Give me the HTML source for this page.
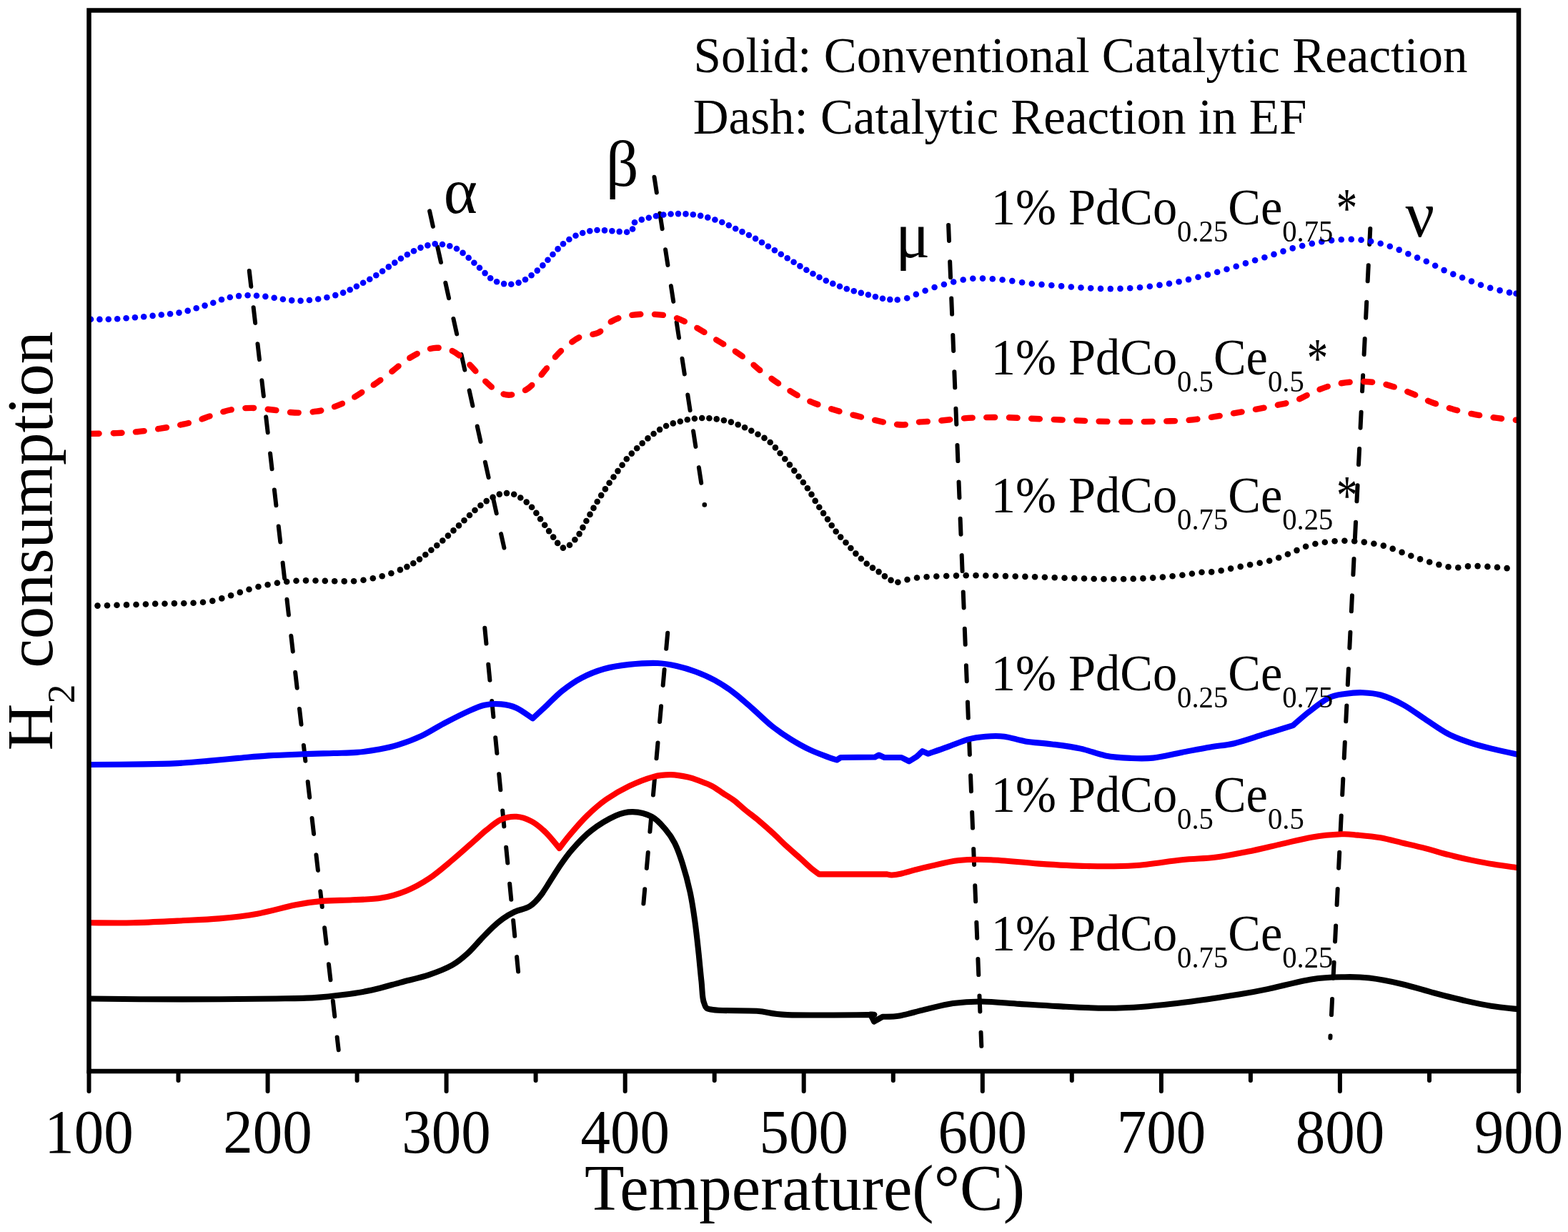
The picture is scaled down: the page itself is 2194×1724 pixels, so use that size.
<!DOCTYPE html>
<html><head><meta charset="utf-8"><title>H2-TPR</title>
<style>
html,body{margin:0;padding:0;background:#fff;}
svg{display:block;}
text{font-family:"Liberation Serif","Times New Roman",serif;fill:#000;}
</style></head><body>
<svg width="2194" height="1724" viewBox="0 0 2194 1724">
<rect x="0" y="0" width="2194" height="1724" fill="#fff"/>
<line x1="348.8" y1="379.1" x2="473.7" y2="1469.2" stroke="#000" stroke-width="6" stroke-linecap="round" stroke-dasharray="22 29.4"/>
<line x1="601.1" y1="295.4" x2="705.4" y2="766.6" stroke="#000" stroke-width="6" stroke-linecap="round" stroke-dasharray="22 29.4"/>
<line x1="678.3" y1="878.7" x2="725.1" y2="1359.5" stroke="#000" stroke-width="6" stroke-linecap="round" stroke-dasharray="22 29.4"/>
<line x1="915.5" y1="247.7" x2="985.5" y2="703.8" stroke="#000" stroke-width="6" stroke-linecap="round" stroke-dasharray="22 29.4"/>
<line x1="934.2" y1="885.8" x2="900.4" y2="1264.5" stroke="#000" stroke-width="6" stroke-linecap="round" stroke-dasharray="22 29.4"/>
<line x1="1327.1" y1="314.9" x2="1373.3" y2="1463.8" stroke="#000" stroke-width="6" stroke-linecap="round" stroke-dasharray="22 29.4"/>
<line x1="1917.3" y1="320.0" x2="1861.4" y2="1452.4" stroke="#000" stroke-width="6" stroke-linecap="round" stroke-dasharray="22 29.4"/>
<circle cx="985.8" cy="706.4" r="3.3" fill="#000"/>
<g fill="#0000ff"><circle cx="127.0" cy="446.8" r="4.30"/><circle cx="139.4" cy="446.9" r="4.30"/><circle cx="151.8" cy="446.8" r="4.30"/><circle cx="164.2" cy="446.2" r="4.30"/><circle cx="176.6" cy="445.3" r="4.30"/><circle cx="188.9" cy="444.3" r="4.30"/><circle cx="201.2" cy="443.2" r="4.30"/><circle cx="213.6" cy="441.9" r="4.30"/><circle cx="225.8" cy="440.5" r="4.30"/><circle cx="238.1" cy="439.2" r="4.30"/><circle cx="250.5" cy="437.6" r="4.30"/><circle cx="262.7" cy="434.9" r="4.30"/><circle cx="274.7" cy="431.2" r="4.30"/><circle cx="286.6" cy="427.6" r="4.30"/><circle cx="298.3" cy="423.8" r="4.30"/><circle cx="310.0" cy="419.3" r="4.30"/><circle cx="321.8" cy="416.0" r="4.30"/><circle cx="334.1" cy="414.1" r="4.30"/><circle cx="346.6" cy="413.3" r="4.30"/><circle cx="359.0" cy="413.8" r="4.30"/><circle cx="371.4" cy="414.9" r="4.30"/><circle cx="383.7" cy="416.8" r="4.30"/><circle cx="395.9" cy="418.7" r="4.30"/><circle cx="408.2" cy="420.4" r="4.30"/><circle cx="420.6" cy="420.9" r="4.30"/><circle cx="432.9" cy="420.0" r="4.30"/><circle cx="445.2" cy="418.5" r="4.30"/><circle cx="457.4" cy="416.2" r="4.30"/><circle cx="469.3" cy="413.1" r="4.30"/><circle cx="480.1" cy="409.6" r="4.30"/><circle cx="489.7" cy="405.5" r="4.30"/><circle cx="498.9" cy="400.8" r="4.30"/><circle cx="508.1" cy="395.7" r="4.30"/><circle cx="517.3" cy="390.7" r="4.30"/><circle cx="526.3" cy="385.3" r="4.30"/><circle cx="535.1" cy="379.5" r="4.30"/><circle cx="543.8" cy="373.4" r="4.30"/><circle cx="552.3" cy="367.6" r="4.30"/><circle cx="560.9" cy="361.8" r="4.30"/><circle cx="569.9" cy="356.3" r="4.30"/><circle cx="579.0" cy="351.3" r="4.30"/><circle cx="588.5" cy="346.6" r="4.30"/><circle cx="598.4" cy="343.4" r="4.30"/><circle cx="608.7" cy="341.3" r="4.30"/><circle cx="619.0" cy="342.0" r="4.30"/><circle cx="629.3" cy="344.3" r="4.30"/><circle cx="639.0" cy="348.0" r="4.30"/><circle cx="647.6" cy="353.9" r="4.30"/><circle cx="655.7" cy="360.7" r="4.30"/><circle cx="663.4" cy="367.7" r="4.30"/><circle cx="671.0" cy="374.8" r="4.30"/><circle cx="678.6" cy="382.1" r="4.30"/><circle cx="686.2" cy="389.2" r="4.30"/><circle cx="695.1" cy="394.2" r="4.30"/><circle cx="705.1" cy="397.1" r="4.30"/><circle cx="715.3" cy="397.7" r="4.30"/><circle cx="725.6" cy="395.6" r="4.30"/><circle cx="735.0" cy="391.2" r="4.30"/><circle cx="743.6" cy="385.2" r="4.30"/><circle cx="751.8" cy="378.6" r="4.30"/><circle cx="759.4" cy="371.4" r="4.30"/><circle cx="766.5" cy="363.8" r="4.30"/><circle cx="773.5" cy="356.0" r="4.30"/><circle cx="780.6" cy="348.4" r="4.30"/><circle cx="788.0" cy="341.2" r="4.30"/><circle cx="796.4" cy="335.0" r="4.30"/><circle cx="805.5" cy="329.8" r="4.30"/><circle cx="815.2" cy="326.0" r="4.30"/><circle cx="825.3" cy="323.3" r="4.30"/><circle cx="835.5" cy="322.0" r="4.30"/><circle cx="846.0" cy="322.4" r="4.30"/><circle cx="856.4" cy="323.3" r="4.30"/><circle cx="866.7" cy="324.1" r="4.30"/><circle cx="877.1" cy="324.8" r="4.30"/><circle cx="885.1" cy="320.5" r="4.30"/><circle cx="888.0" cy="311.3" r="4.30"/><circle cx="897.8" cy="307.4" r="4.30"/><circle cx="907.8" cy="304.7" r="4.30"/><circle cx="918.0" cy="302.3" r="4.30"/><circle cx="928.3" cy="300.5" r="4.30"/><circle cx="938.6" cy="299.5" r="4.30"/><circle cx="949.0" cy="299.1" r="4.30"/><circle cx="959.5" cy="299.4" r="4.30"/><circle cx="969.8" cy="300.2" r="4.30"/><circle cx="980.2" cy="301.9" r="4.30"/><circle cx="990.3" cy="304.4" r="4.30"/><circle cx="1000.4" cy="307.5" r="4.30"/><circle cx="1010.3" cy="311.0" r="4.30"/><circle cx="1019.8" cy="315.2" r="4.30"/><circle cx="1029.2" cy="320.0" r="4.30"/><circle cx="1038.5" cy="324.4" r="4.30"/><circle cx="1047.9" cy="329.0" r="4.30"/><circle cx="1057.1" cy="333.9" r="4.30"/><circle cx="1066.0" cy="339.2" r="4.30"/><circle cx="1074.9" cy="344.8" r="4.30"/><circle cx="1083.9" cy="350.3" r="4.30"/><circle cx="1092.8" cy="355.8" r="4.30"/><circle cx="1101.7" cy="361.3" r="4.30"/><circle cx="1110.6" cy="366.8" r="4.30"/><circle cx="1119.4" cy="372.4" r="4.30"/><circle cx="1128.4" cy="377.7" r="4.30"/><circle cx="1137.5" cy="383.0" r="4.30"/><circle cx="1146.5" cy="388.0" r="4.30"/><circle cx="1155.8" cy="392.7" r="4.30"/><circle cx="1165.3" cy="396.9" r="4.30"/><circle cx="1175.0" cy="400.7" r="4.30"/><circle cx="1184.8" cy="404.3" r="4.30"/><circle cx="1194.8" cy="407.3" r="4.30"/><circle cx="1204.8" cy="409.9" r="4.30"/><circle cx="1214.9" cy="412.5" r="4.30"/><circle cx="1224.9" cy="415.3" r="4.30"/><circle cx="1235.0" cy="417.8" r="4.30"/><circle cx="1245.3" cy="419.1" r="4.30"/><circle cx="1255.7" cy="419.5" r="4.30"/><circle cx="1269.2" cy="417.2" r="4.30"/><circle cx="1281.8" cy="411.9" r="4.30"/><circle cx="1294.6" cy="406.7" r="4.30"/><circle cx="1307.6" cy="402.0" r="4.30"/><circle cx="1320.9" cy="398.0" r="4.30"/><circle cx="1334.2" cy="394.5" r="4.30"/><circle cx="1347.7" cy="391.5" r="4.30"/><circle cx="1361.3" cy="389.7" r="4.30"/><circle cx="1375.0" cy="389.6" r="4.30"/><circle cx="1388.8" cy="390.3" r="4.30"/><circle cx="1402.6" cy="391.5" r="4.30"/><circle cx="1416.3" cy="393.1" r="4.30"/><circle cx="1430.1" cy="395.2" r="4.30"/><circle cx="1443.8" cy="397.0" r="4.30"/><circle cx="1457.5" cy="398.1" r="4.30"/><circle cx="1471.3" cy="399.2" r="4.30"/><circle cx="1485.1" cy="400.4" r="4.30"/><circle cx="1498.8" cy="401.5" r="4.30"/><circle cx="1512.5" cy="402.5" r="4.30"/><circle cx="1526.2" cy="403.3" r="4.30"/><circle cx="1540.0" cy="403.9" r="4.30"/><circle cx="1553.8" cy="404.1" r="4.30"/><circle cx="1567.5" cy="403.9" r="4.30"/><circle cx="1581.2" cy="403.3" r="4.30"/><circle cx="1595.0" cy="402.2" r="4.30"/><circle cx="1608.8" cy="400.7" r="4.30"/><circle cx="1622.5" cy="398.9" r="4.30"/><circle cx="1636.0" cy="396.9" r="4.30"/><circle cx="1649.6" cy="394.2" r="4.30"/><circle cx="1663.0" cy="391.1" r="4.30"/><circle cx="1676.5" cy="387.8" r="4.30"/><circle cx="1689.9" cy="384.4" r="4.30"/><circle cx="1703.2" cy="380.7" r="4.30"/><circle cx="1716.5" cy="376.8" r="4.30"/><circle cx="1729.7" cy="372.7" r="4.30"/><circle cx="1742.9" cy="368.4" r="4.30"/><circle cx="1756.1" cy="364.3" r="4.30"/><circle cx="1769.4" cy="360.2" r="4.30"/><circle cx="1782.5" cy="355.9" r="4.30"/><circle cx="1795.5" cy="351.6" r="4.30"/><circle cx="1808.7" cy="347.4" r="4.30"/><circle cx="1822.2" cy="344.0" r="4.30"/><circle cx="1835.8" cy="340.9" r="4.30"/><circle cx="1849.3" cy="338.3" r="4.30"/><circle cx="1863.1" cy="336.4" r="4.30"/><circle cx="1876.8" cy="335.2" r="4.30"/><circle cx="1890.8" cy="334.9" r="4.30"/><circle cx="1904.6" cy="335.8" r="4.30"/><circle cx="1918.2" cy="337.7" r="4.30"/><circle cx="1931.7" cy="340.7" r="4.30"/><circle cx="1944.8" cy="344.7" r="4.30"/><circle cx="1957.7" cy="349.6" r="4.30"/><circle cx="1970.4" cy="355.2" r="4.30"/><circle cx="1983.1" cy="360.6" r="4.30"/><circle cx="1995.8" cy="365.8" r="4.30"/><circle cx="2008.2" cy="371.8" r="4.30"/><circle cx="2020.6" cy="378.1" r="4.30"/><circle cx="2033.3" cy="383.6" r="4.30"/><circle cx="2046.1" cy="388.5" r="4.30"/><circle cx="2059.0" cy="393.6" r="4.30"/><circle cx="2072.0" cy="398.7" r="4.30"/><circle cx="2085.2" cy="402.9" r="4.30"/><circle cx="2098.6" cy="406.4" r="4.30"/><circle cx="2112.0" cy="409.4" r="4.30"/><circle cx="2121.5" cy="410.8" r="4.30"/></g>
<path d="M127.0,606.9 C132.9,606.8 151.9,606.5 162.7,606.1 C173.5,605.7 182.2,605.2 192.0,604.2 C201.8,603.2 212.1,601.7 221.4,600.2 C230.8,598.7 239.4,597.2 248.1,595.4 C256.8,593.6 265.4,591.8 273.4,589.5 C281.4,587.2 287.9,584.2 296.1,581.5 C304.3,578.8 313.5,575.3 322.8,573.5 C332.1,571.7 342.3,570.9 352.1,570.9 C361.9,570.9 371.5,572.4 381.5,573.5 C391.5,574.6 402.0,577.1 412.2,577.5 C422.4,577.9 433.7,577.0 442.8,575.7 C451.9,574.4 459.3,572.1 466.9,569.5 C474.5,566.9 481.1,564.0 488.2,560.2 C495.3,556.4 502.8,551.1 509.5,546.9 C516.2,542.7 521.5,539.6 528.2,534.9 C534.9,530.2 542.9,523.9 549.6,518.8 C556.3,513.7 561.5,508.6 568.2,504.2 C574.9,499.8 582.5,495.1 589.6,492.2 C596.7,489.3 603.8,487.0 610.9,486.8 C618.0,486.6 625.2,487.5 632.3,490.8 C639.4,494.1 646.5,500.4 653.6,506.8 C660.7,513.2 668.4,523.0 675.0,529.5 C681.6,536.0 687.1,541.6 693.3,545.5 C699.5,549.4 704.9,552.7 712.0,552.7 C719.1,552.7 729.3,549.1 736.0,545.5 C742.7,541.9 747.1,535.9 752.0,530.8 C756.9,525.7 760.9,520.3 765.4,514.8 C769.9,509.2 773.8,502.8 778.7,497.5 C783.6,492.2 788.9,487.2 794.7,482.8 C800.5,478.4 806.3,473.7 813.4,470.8 C820.5,467.9 830.3,469.1 837.4,465.5 C844.5,461.9 849.0,453.5 856.1,449.5 C863.2,445.5 871.2,443.1 880.1,441.5 C889.0,439.9 899.7,439.4 909.5,439.6 C919.3,439.8 929.9,440.7 938.8,442.8 C947.7,444.9 955.2,448.6 962.8,452.1 C970.4,455.7 977.1,459.9 984.2,464.1 C991.3,468.3 998.6,473.3 1005.5,477.5 C1012.4,481.7 1018.4,484.8 1025.5,489.5 C1032.6,494.2 1041.8,500.6 1048.2,505.5 C1054.7,510.4 1058.4,514.3 1064.2,518.8 C1070.0,523.2 1077.1,528.2 1082.9,532.2 C1088.7,536.2 1092.9,539.0 1098.9,542.8 C1104.9,546.6 1111.8,551.2 1118.9,554.9 C1126.0,558.6 1133.8,562.0 1141.6,565.0 C1149.4,568.0 1157.6,570.5 1165.6,573.0 C1173.6,575.5 1181.6,577.6 1189.6,579.7 C1197.6,581.8 1205.6,583.6 1213.6,585.5 C1221.6,587.4 1230.7,589.5 1237.6,590.9 C1244.5,592.3 1250.2,593.4 1255.0,594.0 C1259.8,594.6 1262.1,594.8 1266.7,594.3 C1271.3,593.8 1275.2,591.8 1282.7,590.9 C1290.2,590.0 1301.3,589.9 1312.0,589.0 C1322.7,588.1 1336.0,586.3 1346.7,585.5 C1357.4,584.7 1365.9,584.4 1376.1,584.2 C1386.3,584.0 1397.9,584.0 1408.1,584.2 C1418.3,584.4 1427.2,585.0 1437.4,585.5 C1447.6,586.0 1458.6,586.4 1469.5,586.9 C1480.4,587.4 1492.1,587.8 1502.8,588.2 C1513.5,588.6 1522.8,589.2 1533.5,589.5 C1544.2,589.8 1555.9,590.0 1566.8,590.1 C1577.7,590.2 1588.5,590.2 1598.9,590.1 C1609.4,590.0 1619.3,589.8 1629.5,589.5 C1639.7,589.2 1649.8,589.1 1660.2,588.2 C1670.7,587.3 1681.8,585.8 1692.2,584.2 C1702.7,582.7 1712.7,580.7 1722.9,578.9 C1733.1,577.1 1743.4,575.4 1753.6,573.5 C1763.8,571.6 1774.3,569.7 1784.3,567.5 C1794.2,565.3 1804.1,563.7 1813.3,560.4 C1822.5,557.1 1830.4,551.6 1839.6,547.8 C1848.8,544.0 1858.5,540.1 1868.6,537.8 C1878.7,535.5 1890.1,534.4 1900.2,534.1 C1910.3,533.8 1920.2,534.5 1929.2,535.9 C1938.2,537.3 1946.1,539.9 1954.2,542.5 C1962.3,545.1 1970.1,548.4 1978.0,551.7 C1985.9,555.0 1993.2,559.0 2001.7,562.3 C2010.2,565.6 2019.4,568.6 2029.3,571.5 C2039.2,574.4 2050.4,577.2 2061.0,579.4 C2071.6,581.6 2082.5,583.3 2092.6,584.7 C2102.7,586.1 2116.7,587.3 2121.5,587.8" fill="none" stroke="#ff0000" stroke-width="8.4" stroke-linecap="round" stroke-dasharray="11.8 19.7"/>
<g fill="#000"><circle cx="136.5" cy="847.6" r="4.30"/><circle cx="150.0" cy="847.2" r="4.30"/><circle cx="163.5" cy="846.8" r="4.30"/><circle cx="177.0" cy="846.4" r="4.30"/><circle cx="190.5" cy="846.0" r="4.30"/><circle cx="203.9" cy="845.5" r="4.30"/><circle cx="217.2" cy="844.9" r="4.30"/><circle cx="230.5" cy="844.7" r="4.30"/><circle cx="243.9" cy="844.4" r="4.30"/><circle cx="257.3" cy="844.2" r="4.30"/><circle cx="270.6" cy="843.7" r="4.30"/><circle cx="284.0" cy="842.7" r="4.30"/><circle cx="297.3" cy="840.9" r="4.30"/><circle cx="310.3" cy="837.4" r="4.30"/><circle cx="323.1" cy="833.2" r="4.30"/><circle cx="335.8" cy="828.9" r="4.30"/><circle cx="348.5" cy="824.8" r="4.30"/><circle cx="361.5" cy="821.0" r="4.30"/><circle cx="374.6" cy="818.2" r="4.30"/><circle cx="387.9" cy="815.8" r="4.30"/><circle cx="401.2" cy="814.0" r="4.30"/><circle cx="414.5" cy="812.8" r="4.30"/><circle cx="428.0" cy="812.4" r="4.30"/><circle cx="441.5" cy="812.5" r="4.30"/><circle cx="454.8" cy="812.9" r="4.30"/><circle cx="468.2" cy="813.3" r="4.30"/><circle cx="481.7" cy="813.4" r="4.30"/><circle cx="495.1" cy="813.2" r="4.30"/><circle cx="508.5" cy="811.8" r="4.30"/><circle cx="521.8" cy="809.3" r="4.30"/><circle cx="534.7" cy="806.2" r="4.30"/><circle cx="547.4" cy="802.2" r="4.30"/><circle cx="559.9" cy="797.4" r="4.30"/><circle cx="569.4" cy="793.1" r="4.30"/><circle cx="578.3" cy="788.2" r="4.30"/><circle cx="587.0" cy="782.6" r="4.30"/><circle cx="595.3" cy="776.3" r="4.30"/><circle cx="603.4" cy="769.8" r="4.30"/><circle cx="611.3" cy="763.3" r="4.30"/><circle cx="619.3" cy="756.5" r="4.30"/><circle cx="626.9" cy="749.6" r="4.30"/><circle cx="634.5" cy="742.4" r="4.30"/><circle cx="642.0" cy="735.4" r="4.30"/><circle cx="649.5" cy="728.2" r="4.30"/><circle cx="657.0" cy="721.0" r="4.30"/><circle cx="664.5" cy="714.0" r="4.30"/><circle cx="672.4" cy="707.3" r="4.30"/><circle cx="680.7" cy="701.1" r="4.30"/><circle cx="689.6" cy="695.9" r="4.30"/><circle cx="698.8" cy="691.6" r="4.30"/><circle cx="709.0" cy="690.1" r="4.30"/><circle cx="719.2" cy="691.8" r="4.30"/><circle cx="728.3" cy="696.5" r="4.30"/><circle cx="736.7" cy="702.6" r="4.30"/><circle cx="744.1" cy="709.7" r="4.30"/><circle cx="750.4" cy="717.9" r="4.30"/><circle cx="756.1" cy="726.3" r="4.30"/><circle cx="762.2" cy="734.8" r="4.30"/><circle cx="768.1" cy="743.1" r="4.30"/><circle cx="774.2" cy="751.6" r="4.30"/><circle cx="780.2" cy="759.9" r="4.30"/><circle cx="787.9" cy="766.6" r="4.30"/><circle cx="797.0" cy="762.7" r="4.30"/><circle cx="804.4" cy="755.3" r="4.30"/><circle cx="810.6" cy="747.1" r="4.30"/><circle cx="815.5" cy="738.1" r="4.30"/><circle cx="820.4" cy="729.0" r="4.30"/><circle cx="825.5" cy="719.9" r="4.30"/><circle cx="830.5" cy="710.9" r="4.30"/><circle cx="835.7" cy="702.0" r="4.30"/><circle cx="841.2" cy="693.1" r="4.30"/><circle cx="846.9" cy="684.4" r="4.30"/><circle cx="852.6" cy="675.8" r="4.30"/><circle cx="858.5" cy="667.5" r="4.30"/><circle cx="864.5" cy="659.1" r="4.30"/><circle cx="870.6" cy="650.7" r="4.30"/><circle cx="876.8" cy="642.3" r="4.30"/><circle cx="883.8" cy="634.6" r="4.30"/><circle cx="891.2" cy="627.2" r="4.30"/><circle cx="898.7" cy="620.2" r="4.30"/><circle cx="906.5" cy="613.4" r="4.30"/><circle cx="914.6" cy="607.0" r="4.30"/><circle cx="923.1" cy="601.1" r="4.30"/><circle cx="932.1" cy="596.0" r="4.30"/><circle cx="941.8" cy="592.4" r="4.30"/><circle cx="951.8" cy="589.8" r="4.30"/><circle cx="961.8" cy="587.3" r="4.30"/><circle cx="971.9" cy="585.7" r="4.30"/><circle cx="982.2" cy="585.0" r="4.30"/><circle cx="992.4" cy="585.3" r="4.30"/><circle cx="1002.7" cy="586.4" r="4.30"/><circle cx="1012.9" cy="588.2" r="4.30"/><circle cx="1022.9" cy="590.6" r="4.30"/><circle cx="1032.7" cy="594.2" r="4.30"/><circle cx="1042.1" cy="598.3" r="4.30"/><circle cx="1051.3" cy="602.8" r="4.30"/><circle cx="1060.5" cy="607.8" r="4.30"/><circle cx="1069.5" cy="612.9" r="4.30"/><circle cx="1077.7" cy="619.0" r="4.30"/><circle cx="1084.9" cy="626.4" r="4.30"/><circle cx="1091.6" cy="634.3" r="4.30"/><circle cx="1098.3" cy="642.3" r="4.30"/><circle cx="1104.9" cy="650.4" r="4.30"/><circle cx="1111.3" cy="658.6" r="4.30"/><circle cx="1117.6" cy="666.7" r="4.30"/><circle cx="1123.9" cy="675.0" r="4.30"/><circle cx="1129.9" cy="683.3" r="4.30"/><circle cx="1135.5" cy="691.9" r="4.30"/><circle cx="1140.7" cy="700.9" r="4.30"/><circle cx="1146.3" cy="709.7" r="4.30"/><circle cx="1152.1" cy="718.1" r="4.30"/><circle cx="1158.0" cy="726.6" r="4.30"/><circle cx="1163.7" cy="735.2" r="4.30"/><circle cx="1169.7" cy="743.8" r="4.30"/><circle cx="1176.2" cy="751.6" r="4.30"/><circle cx="1183.5" cy="759.2" r="4.30"/><circle cx="1190.4" cy="767.0" r="4.30"/><circle cx="1197.4" cy="774.6" r="4.30"/><circle cx="1204.9" cy="781.8" r="4.30"/><circle cx="1212.7" cy="788.7" r="4.30"/><circle cx="1221.0" cy="794.6" r="4.30"/><circle cx="1229.6" cy="800.1" r="4.30"/><circle cx="1237.9" cy="806.4" r="4.30"/><circle cx="1246.6" cy="811.9" r="4.30"/><circle cx="1256.4" cy="814.7" r="4.30"/><circle cx="1269.5" cy="811.1" r="4.30"/><circle cx="1283.0" cy="808.5" r="4.30"/><circle cx="1296.6" cy="807.2" r="4.30"/><circle cx="1310.3" cy="806.5" r="4.30"/><circle cx="1324.2" cy="806.0" r="4.30"/><circle cx="1338.0" cy="805.6" r="4.30"/><circle cx="1351.7" cy="805.3" r="4.30"/><circle cx="1365.5" cy="805.3" r="4.30"/><circle cx="1379.3" cy="805.5" r="4.30"/><circle cx="1393.1" cy="805.8" r="4.30"/><circle cx="1406.9" cy="806.1" r="4.30"/><circle cx="1420.7" cy="806.5" r="4.30"/><circle cx="1434.4" cy="806.9" r="4.30"/><circle cx="1448.1" cy="807.3" r="4.30"/><circle cx="1461.9" cy="807.8" r="4.30"/><circle cx="1475.7" cy="808.3" r="4.30"/><circle cx="1489.5" cy="808.7" r="4.30"/><circle cx="1503.3" cy="809.1" r="4.30"/><circle cx="1517.0" cy="809.5" r="4.30"/><circle cx="1530.7" cy="810.0" r="4.30"/><circle cx="1544.5" cy="810.2" r="4.30"/><circle cx="1558.3" cy="810.3" r="4.30"/><circle cx="1572.1" cy="810.2" r="4.30"/><circle cx="1585.7" cy="809.9" r="4.30"/><circle cx="1599.4" cy="809.4" r="4.30"/><circle cx="1613.2" cy="808.6" r="4.30"/><circle cx="1626.9" cy="807.6" r="4.30"/><circle cx="1640.6" cy="806.3" r="4.30"/><circle cx="1654.4" cy="804.7" r="4.30"/><circle cx="1667.9" cy="802.7" r="4.30"/><circle cx="1681.5" cy="800.8" r="4.30"/><circle cx="1695.2" cy="800.4" r="4.30"/><circle cx="1708.7" cy="798.5" r="4.30"/><circle cx="1722.1" cy="795.6" r="4.30"/><circle cx="1735.7" cy="792.9" r="4.30"/><circle cx="1749.1" cy="790.3" r="4.30"/><circle cx="1762.7" cy="787.7" r="4.30"/><circle cx="1776.2" cy="784.7" r="4.30"/><circle cx="1789.2" cy="780.5" r="4.30"/><circle cx="1801.9" cy="775.5" r="4.30"/><circle cx="1814.5" cy="770.1" r="4.30"/><circle cx="1827.1" cy="764.8" r="4.30"/><circle cx="1840.4" cy="761.0" r="4.30"/><circle cx="1853.8" cy="758.7" r="4.30"/><circle cx="1867.6" cy="757.2" r="4.30"/><circle cx="1881.4" cy="756.7" r="4.30"/><circle cx="1895.2" cy="757.2" r="4.30"/><circle cx="1908.8" cy="758.6" r="4.30"/><circle cx="1922.4" cy="760.7" r="4.30"/><circle cx="1935.8" cy="763.6" r="4.30"/><circle cx="1948.7" cy="767.9" r="4.30"/><circle cx="1961.6" cy="772.9" r="4.30"/><circle cx="1974.3" cy="777.8" r="4.30"/><circle cx="1987.1" cy="782.4" r="4.30"/><circle cx="2000.2" cy="786.5" r="4.30"/><circle cx="2013.4" cy="790.1" r="4.30"/><circle cx="2026.6" cy="793.3" r="4.30"/><circle cx="2040.3" cy="794.2" r="4.30"/><circle cx="2054.0" cy="792.4" r="4.30"/><circle cx="2067.6" cy="792.1" r="4.30"/><circle cx="2081.4" cy="792.9" r="4.30"/><circle cx="2095.0" cy="793.9" r="4.30"/><circle cx="2108.6" cy="795.1" r="4.30"/></g>
<path d="M127.0,1070.0 C139.2,1069.9 179.8,1069.7 200.0,1069.4 C220.2,1069.1 233.0,1068.8 248.1,1068.1 C263.2,1067.3 276.6,1066.1 290.8,1064.9 C305.0,1063.7 319.2,1062.2 333.4,1060.9 C347.6,1059.7 361.0,1058.3 376.1,1057.4 C391.2,1056.5 409.1,1055.9 424.2,1055.3 C439.3,1054.7 454.4,1054.4 466.9,1054.0 C479.3,1053.6 488.2,1053.8 498.9,1052.9 C509.6,1052.0 521.1,1050.4 530.9,1048.6 C540.7,1046.8 547.8,1045.3 557.6,1042.2 C567.4,1039.1 578.9,1034.9 589.6,1029.9 C600.3,1024.9 610.9,1017.7 621.6,1012.1 C632.3,1006.5 644.3,1000.3 653.6,996.1 C662.9,991.9 669.7,988.5 677.6,986.7 C685.5,984.9 693.8,984.7 701.3,985.4 C708.8,986.1 715.4,987.4 722.7,990.7 C730.1,994.0 741.6,1003.0 745.4,1005.4 C748.7,1002.3 758.5,993.2 765.4,986.7 C772.3,980.2 778.7,973.0 786.7,966.7 C794.7,960.4 803.6,953.9 813.4,948.8 C823.2,943.7 834.3,939.1 845.4,936.0 C856.5,932.9 867.6,931.2 880.1,929.9 C892.6,928.6 909.0,927.6 920.1,928.0 C931.2,928.4 937.9,930.0 946.8,932.0 C955.7,934.0 964.6,936.7 973.5,940.0 C982.4,943.3 991.3,947.1 1000.2,952.0 C1009.1,956.9 1018.0,962.7 1026.9,969.4 C1035.8,976.1 1044.6,984.3 1053.5,992.1 C1062.4,999.9 1071.3,1009.0 1080.2,1016.1 C1089.1,1023.2 1098.0,1029.2 1106.9,1034.7 C1115.8,1040.2 1124.7,1045.2 1133.6,1049.4 C1142.5,1053.6 1155.8,1058.3 1160.3,1060.1 C1162.1,1060.7 1169.1,1062.9 1170.9,1063.5 C1171.8,1062.9 1175.4,1060.6 1176.3,1060.0 C1184.3,1059.9 1216.3,1059.6 1224.3,1059.5 C1225.2,1059.0 1228.7,1057.0 1229.6,1056.5 C1230.9,1057.1 1236.3,1059.4 1237.6,1060.0 C1241.5,1060.0 1257.3,1060.0 1261.3,1060.0 C1263.1,1060.9 1270.2,1064.5 1272.0,1065.4 C1273.8,1064.3 1280.9,1059.9 1282.7,1058.8 C1284.0,1057.5 1289.4,1052.5 1290.7,1051.2 C1292.0,1051.8 1297.4,1054.2 1298.7,1054.8 C1303.2,1053.2 1316.1,1048.8 1325.4,1045.4 C1334.7,1042.1 1345.8,1037.2 1354.7,1034.7 C1363.6,1032.2 1370.2,1031.4 1378.7,1030.7 C1387.2,1030.0 1396.1,1029.6 1405.4,1030.7 C1414.8,1031.8 1423.7,1035.6 1434.8,1037.4 C1445.9,1039.2 1459.2,1039.7 1472.1,1041.4 C1485.0,1043.1 1499.6,1044.9 1512.1,1047.6 C1524.5,1050.3 1535.2,1055.2 1546.8,1057.4 C1558.4,1059.6 1570.4,1060.4 1581.5,1060.9 C1592.6,1061.4 1601.5,1061.9 1613.5,1060.6 C1625.5,1059.3 1640.2,1055.4 1653.6,1052.9 C1666.9,1050.4 1681.3,1047.5 1693.6,1045.4 C1705.9,1043.3 1714.9,1043.2 1727.3,1040.2 C1739.7,1037.2 1754.6,1031.9 1768.2,1027.7 C1781.8,1023.5 1802.3,1017.3 1809.1,1015.2 C1812.9,1012.0 1823.5,1002.3 1831.8,995.9 C1840.1,989.5 1850.8,980.8 1859.1,976.6 C1867.4,972.5 1874.0,972.2 1881.8,971.0 C1889.6,969.8 1897.7,969.0 1906.0,969.2 C1914.3,969.5 1922.1,969.7 1931.7,972.5 C1941.3,975.3 1952.9,980.4 1963.5,986.2 C1974.1,992.0 1984.6,1000.2 1995.2,1007.1 C2005.8,1014.0 2016.4,1021.9 2027.0,1027.4 C2037.6,1032.9 2048.1,1036.4 2058.7,1039.9 C2069.3,1043.4 2079.6,1045.8 2090.4,1048.4 C2101.2,1051.1 2118.2,1054.6 2123.8,1055.8" fill="none" stroke="#0000ff" stroke-width="8.1" stroke-linejoin="round"/>
<path d="M127.0,1291.3 C136.9,1291.3 166.5,1291.8 186.7,1291.3 C206.9,1290.8 228.1,1289.6 248.1,1288.6 C268.1,1287.6 288.1,1287.1 306.8,1285.4 C325.5,1283.8 342.3,1281.9 360.1,1278.7 C377.9,1275.5 398.4,1269.2 413.5,1266.2 C428.6,1263.2 437.5,1262.1 450.8,1260.9 C464.1,1259.8 479.7,1260.0 493.5,1259.3 C507.3,1258.6 521.0,1258.7 533.5,1256.6 C546.0,1254.5 557.1,1251.2 568.2,1246.7 C579.3,1242.2 589.6,1236.5 600.3,1229.4 C611.0,1222.3 621.6,1212.9 632.3,1204.0 C643.0,1195.1 656.3,1183.0 664.3,1176.0 C672.2,1169.0 673.8,1166.9 680.0,1162.0 C686.2,1157.1 694.2,1150.0 701.3,1146.8 C708.4,1143.6 715.6,1142.3 722.7,1142.8 C729.8,1143.2 737.3,1146.0 744.0,1149.5 C750.7,1153.0 756.2,1157.8 762.7,1164.0 C769.2,1170.2 779.4,1183.2 782.7,1187.0 C785.2,1183.9 791.0,1175.8 797.4,1168.2 C803.8,1160.6 812.9,1149.7 821.4,1141.5 C829.9,1133.3 838.3,1125.7 848.1,1118.8 C857.9,1111.9 869.0,1105.4 880.1,1100.1 C891.2,1094.8 905.0,1089.5 914.8,1086.8 C924.6,1084.1 930.8,1084.0 938.8,1084.1 C946.8,1084.2 956.1,1086.0 962.8,1087.5 C969.5,1089.0 973.3,1090.7 978.8,1092.8 C984.3,1094.9 990.5,1097.0 996.0,1099.9 C1001.5,1102.8 1006.4,1106.6 1011.6,1110.0 C1016.8,1113.4 1022.1,1116.3 1027.3,1120.2 C1032.5,1124.1 1037.2,1128.8 1042.9,1133.5 C1048.6,1138.2 1055.2,1142.9 1061.7,1148.4 C1068.2,1153.9 1075.5,1160.3 1082.0,1166.3 C1088.5,1172.3 1094.3,1178.3 1100.8,1184.3 C1107.3,1190.3 1115.1,1196.9 1121.1,1202.3 C1127.1,1207.7 1132.5,1212.9 1136.7,1216.4 C1140.9,1219.9 1144.5,1222.2 1146.1,1223.4 C1162.0,1223.4 1225.6,1223.4 1241.5,1223.4 C1242.5,1223.6 1244.7,1224.6 1247.8,1224.5 C1250.9,1224.4 1254.8,1223.9 1260.3,1222.7 C1265.8,1221.5 1274.0,1218.9 1280.6,1217.2 C1287.2,1215.5 1289.9,1214.7 1300.0,1212.5 C1310.1,1210.3 1327.0,1205.5 1341.4,1204.0 C1355.9,1202.5 1368.0,1202.4 1386.7,1203.2 C1405.4,1204.0 1431.2,1207.1 1453.4,1208.6 C1475.7,1210.1 1498.0,1211.6 1520.2,1212.0 C1542.5,1212.4 1564.7,1212.7 1586.9,1211.2 C1609.1,1209.7 1634.8,1205.1 1653.6,1203.2 C1672.4,1201.3 1684.7,1201.7 1700.0,1199.8 C1715.3,1197.9 1730.2,1194.8 1745.4,1191.8 C1760.6,1188.8 1775.8,1185.0 1790.9,1181.6 C1806.1,1178.2 1821.9,1173.8 1836.3,1171.4 C1850.7,1169.0 1866.6,1167.8 1877.2,1167.3 C1887.8,1166.8 1890.9,1167.8 1900.0,1168.6 C1909.1,1169.4 1921.1,1170.4 1931.7,1172.3 C1942.3,1174.2 1952.9,1177.3 1963.5,1179.8 C1974.1,1182.3 1984.6,1184.7 1995.2,1187.4 C2005.8,1190.1 2016.4,1193.5 2027.0,1196.2 C2037.6,1198.9 2048.1,1201.4 2058.7,1203.6 C2069.3,1205.8 2079.6,1207.8 2090.4,1209.6 C2101.2,1211.4 2118.2,1213.4 2123.8,1214.2" fill="none" stroke="#ff0000" stroke-width="8.1" stroke-linejoin="round"/>
<path d="M127.0,1397.5 C139.2,1397.6 170.0,1398.2 200.0,1398.3 C230.0,1398.4 275.7,1398.4 306.8,1398.3 C337.9,1398.2 364.6,1397.9 386.8,1397.5 C409.0,1397.1 424.6,1397.0 440.2,1396.1 C455.8,1395.2 466.9,1393.9 480.2,1392.1 C493.5,1390.3 506.9,1388.4 520.2,1385.5 C533.5,1382.6 546.9,1378.4 560.2,1374.8 C573.6,1371.2 588.3,1368.1 600.3,1364.1 C612.3,1360.1 623.4,1355.7 632.3,1350.8 C641.2,1345.9 646.5,1341.2 653.6,1334.8 C660.7,1328.3 668.9,1318.4 675.0,1312.1 C681.1,1305.8 685.2,1301.5 690.0,1297.0 C694.8,1292.5 699.0,1288.9 704.0,1285.4 C709.0,1281.9 713.8,1278.9 720.0,1276.0 C726.2,1273.1 735.2,1272.1 741.4,1268.1 C747.6,1264.1 750.7,1260.9 757.4,1252.0 C764.1,1243.1 774.3,1225.2 781.4,1214.7 C788.5,1204.2 792.5,1198.0 800.1,1189.3 C807.7,1180.6 816.5,1170.7 826.7,1162.7 C836.9,1154.7 851.6,1145.9 861.4,1141.5 C871.2,1137.1 876.9,1135.9 885.4,1136.1 C893.9,1136.3 904.5,1138.8 912.1,1142.8 C919.7,1146.8 925.5,1153.9 930.8,1160.1 C936.1,1166.3 940.1,1171.9 944.1,1179.9 C948.1,1187.9 951.2,1196.7 954.8,1208.0 C958.4,1219.3 962.6,1234.7 965.5,1248.0 C968.4,1261.3 970.2,1273.9 972.2,1288.1 C974.2,1302.3 976.0,1319.2 977.5,1333.4 C979.0,1347.6 980.2,1361.8 981.5,1373.4 C982.8,1385.0 982.3,1396.4 985.0,1403.0 C987.7,1409.6 985.2,1411.0 997.5,1413.0 C1009.8,1415.0 1041.6,1413.6 1058.9,1414.8 C1076.2,1416.0 1075.8,1419.2 1101.6,1420.1 C1127.4,1421.0 1194.2,1420.2 1213.6,1420.1 C1233.0,1420.0 1217.3,1419.6 1218.0,1419.5 C1218.8,1421.2 1222.2,1427.8 1223.0,1429.5 C1225.0,1428.4 1233.0,1423.9 1235.0,1422.8 C1239.0,1422.6 1249.0,1423.2 1258.7,1421.5 C1268.4,1419.8 1281.0,1415.8 1293.4,1412.9 C1305.9,1410.0 1320.1,1406.0 1333.4,1404.1 C1346.7,1402.2 1357.8,1401.4 1373.4,1401.5 C1389.0,1401.6 1409.0,1403.8 1426.8,1404.9 C1444.6,1406.0 1460.1,1407.1 1480.1,1408.1 C1500.1,1409.1 1526.8,1410.7 1546.8,1410.8 C1566.8,1410.9 1580.2,1410.2 1600.2,1408.7 C1620.2,1407.2 1644.7,1404.3 1666.9,1401.5 C1689.1,1398.7 1715.8,1394.5 1733.6,1391.6 C1751.4,1388.7 1756.5,1387.7 1773.6,1384.1 C1790.7,1380.5 1818.3,1373.0 1836.3,1370.2 C1854.3,1367.4 1868.5,1367.5 1881.8,1367.2 C1895.1,1366.9 1902.7,1367.0 1915.9,1368.6 C1929.2,1370.2 1946.2,1373.5 1961.3,1377.0 C1976.4,1380.5 1991.7,1385.5 2006.8,1389.5 C2021.9,1393.5 2038.9,1397.9 2052.2,1400.9 C2065.4,1403.9 2074.4,1405.8 2086.3,1407.7 C2098.2,1409.6 2117.6,1411.5 2123.8,1412.2" fill="none" stroke="#000" stroke-width="8.1" stroke-linejoin="round"/>
<rect x="124.5" y="14.5" width="2000.5" height="1484.5" fill="none" stroke="#000" stroke-width="6.5"/>
<line x1="124.5" y1="1499" x2="124.5" y2="1527.0" stroke="#000" stroke-width="6" stroke-linecap="round"/>
<line x1="249.5" y1="1499" x2="249.5" y2="1512.0" stroke="#000" stroke-width="6" stroke-linecap="round"/>
<line x1="374.6" y1="1499" x2="374.6" y2="1527.0" stroke="#000" stroke-width="6" stroke-linecap="round"/>
<line x1="499.6" y1="1499" x2="499.6" y2="1512.0" stroke="#000" stroke-width="6" stroke-linecap="round"/>
<line x1="624.6" y1="1499" x2="624.6" y2="1527.0" stroke="#000" stroke-width="6" stroke-linecap="round"/>
<line x1="749.6" y1="1499" x2="749.6" y2="1512.0" stroke="#000" stroke-width="6" stroke-linecap="round"/>
<line x1="874.7" y1="1499" x2="874.7" y2="1527.0" stroke="#000" stroke-width="6" stroke-linecap="round"/>
<line x1="999.7" y1="1499" x2="999.7" y2="1512.0" stroke="#000" stroke-width="6" stroke-linecap="round"/>
<line x1="1124.7" y1="1499" x2="1124.7" y2="1527.0" stroke="#000" stroke-width="6" stroke-linecap="round"/>
<line x1="1249.8" y1="1499" x2="1249.8" y2="1512.0" stroke="#000" stroke-width="6" stroke-linecap="round"/>
<line x1="1374.8" y1="1499" x2="1374.8" y2="1527.0" stroke="#000" stroke-width="6" stroke-linecap="round"/>
<line x1="1499.8" y1="1499" x2="1499.8" y2="1512.0" stroke="#000" stroke-width="6" stroke-linecap="round"/>
<line x1="1624.9" y1="1499" x2="1624.9" y2="1527.0" stroke="#000" stroke-width="6" stroke-linecap="round"/>
<line x1="1749.9" y1="1499" x2="1749.9" y2="1512.0" stroke="#000" stroke-width="6" stroke-linecap="round"/>
<line x1="1874.9" y1="1499" x2="1874.9" y2="1527.0" stroke="#000" stroke-width="6" stroke-linecap="round"/>
<line x1="2000.0" y1="1499" x2="2000.0" y2="1512.0" stroke="#000" stroke-width="6" stroke-linecap="round"/>
<line x1="2125.0" y1="1499" x2="2125.0" y2="1527.0" stroke="#000" stroke-width="6" stroke-linecap="round"/>
<text transform="translate(124.5,1613) scale(0.965,1)" font-size="86" text-anchor="middle">100</text>
<text transform="translate(374.6,1613) scale(0.965,1)" font-size="86" text-anchor="middle">200</text>
<text transform="translate(624.6,1613) scale(0.965,1)" font-size="86" text-anchor="middle">300</text>
<text transform="translate(874.7,1613) scale(0.965,1)" font-size="86" text-anchor="middle">400</text>
<text transform="translate(1124.7,1613) scale(0.965,1)" font-size="86" text-anchor="middle">500</text>
<text transform="translate(1374.8,1613) scale(0.965,1)" font-size="86" text-anchor="middle">600</text>
<text transform="translate(1624.9,1613) scale(0.965,1)" font-size="86" text-anchor="middle">700</text>
<text transform="translate(1874.9,1613) scale(0.965,1)" font-size="86" text-anchor="middle">800</text>
<text transform="translate(2125.0,1613) scale(0.965,1)" font-size="86" text-anchor="middle">900</text>
<text transform="translate(818,1692.7) scale(1.011,1)" font-size="90">Temperature(°C)</text>
<text transform="translate(72.7,1050.4) rotate(-90) scale(1.002,1)" font-size="91">H<tspan font-size="54" dy="31">2</tspan><tspan dy="-31"> consumption</tspan></text>
<text transform="translate(970.6,101) scale(0.986,1)" font-size="70">Solid: Conventional Catalytic Reaction</text>
<text transform="translate(969.7,187) scale(0.986,1)" font-size="70">Dash: Catalytic Reaction in EF</text>
<text x="620.8" y="297.5" font-size="90">α</text>
<text x="847.8" y="259.8" font-size="90">β</text>
<text x="1253" y="360" font-size="90">μ</text>
<text x="1966.4" y="330.7" font-size="90">ν</text>
<text transform="translate(1386.7,314.2) scale(0.957,1)" font-size="71.5">1% PdCo<tspan font-size="42.5" dy="24">0.25</tspan><tspan dy="-24">Ce</tspan><tspan font-size="42.5" dy="24">0.75</tspan></text>
<text transform="translate(1884.4,316.5) scale(0.825,1.08)" font-size="71.5" text-anchor="middle">*</text>
<text transform="translate(1386.7,524.2) scale(0.957,1)" font-size="71.5">1% PdCo<tspan font-size="42.5" dy="24">0.5</tspan><tspan dy="-24">Ce</tspan><tspan font-size="42.5" dy="24">0.5</tspan></text>
<text transform="translate(1843.5,526.5) scale(0.825,1.08)" font-size="71.5" text-anchor="middle">*</text>
<text transform="translate(1386.7,716.8) scale(0.957,1)" font-size="71.5">1% PdCo<tspan font-size="42.5" dy="24">0.75</tspan><tspan dy="-24">Ce</tspan><tspan font-size="42.5" dy="24">0.25</tspan></text>
<text transform="translate(1884.7,719.1) scale(0.825,1.08)" font-size="71.5" text-anchor="middle">*</text>
<text transform="translate(1386.7,966.0) scale(0.957,1)" font-size="71.5">1% PdCo<tspan font-size="42.5" dy="24">0.25</tspan><tspan dy="-24">Ce</tspan><tspan font-size="42.5" dy="24">0.75</tspan></text>
<text transform="translate(1386.7,1136.4) scale(0.957,1)" font-size="71.5">1% PdCo<tspan font-size="42.5" dy="24">0.5</tspan><tspan dy="-24">Ce</tspan><tspan font-size="42.5" dy="24">0.5</tspan></text>
<text transform="translate(1386.7,1330.3) scale(0.957,1)" font-size="71.5">1% PdCo<tspan font-size="42.5" dy="24">0.75</tspan><tspan dy="-24">Ce</tspan><tspan font-size="42.5" dy="24">0.25</tspan></text>
</svg>
</body></html>
